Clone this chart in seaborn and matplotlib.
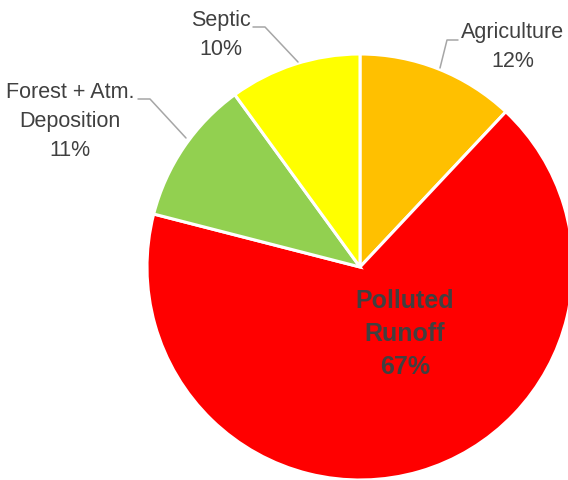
import numpy as np
import matplotlib
matplotlib.use("Agg")
import matplotlib.pyplot as plt
import seaborn as sns

sources = ["Agriculture", "Polluted\nRunoff", "Forest + Atm.\nDeposition", "Septic"]
shares = [12, 67, 11, 10]
colours = ["#FFC000", "#FF0000", "#92D050", "#FFFF00"]

sns.set_style("white")
plt.rcParams['font.family'] = ['Liberation Sans', 'DejaVu Sans']

fig = plt.figure(figsize=(5.68, 4.80), dpi=100)
ax = fig.add_axes([0, 0, 1, 1])

# pie in pixel coordinates, y measured from bottom
cx, cy, r = 360, 480 - 267, 213
ax.pie(shares, colors=colours, startangle=90, counterclock=False,
       center=(cx, cy), radius=r,
       wedgeprops=dict(edgecolor="white", linewidth=2.2))
ax.set_xlim(0, 568)
ax.set_ylim(0, 480)
ax.set_aspect("equal")
ax.axis("off")

txt = "#404040"
line = "#A6A6A6"

def lbl(name, pct, x, y):
    ax.text(x, 480 - y, f"{name}\n{pct}%", ha="center", va="center",
            fontsize=15.5, color=txt, linespacing=1.5)

lbl(sources[0], shares[0], 513, 47)
lbl(sources[2], shares[2], 70, 121)
lbl(sources[3], shares[3], 221, 35)

ax.plot([458, 447, 440], [480 - 40, 480 - 40, 480 - 68], color=line, lw=1.1)
ax.plot([253, 265, 298], [480 - 27, 480 - 27, 480 - 62], color=line, lw=1.1)
ax.plot([138, 150, 186], [480 - 99, 480 - 99, 480 - 138], color=line, lw=1.1)

ax.text(405, 480 - 334, f"{sources[1]}\n{shares[1]}%", ha="center", va="center",
        fontsize=18, fontweight="bold", color=txt, linespacing=1.45)

fig.savefig("out.png", dpi=100)
